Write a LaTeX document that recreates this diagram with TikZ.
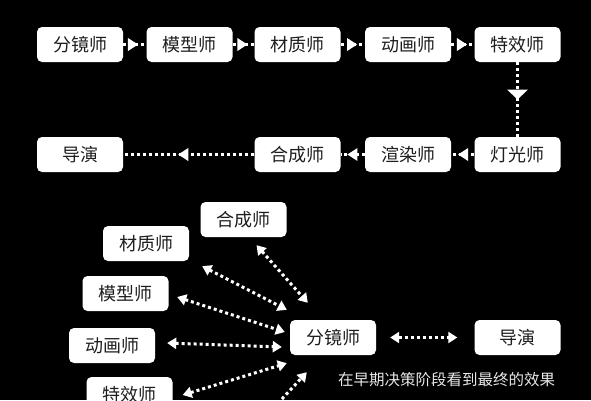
\documentclass[tikz,border=0pt]{standalone}
\usepackage{fontspec}
\setmainfont{Noto Sans CJK SC}
\usetikzlibrary{arrows.meta,calc,decorations.markings}
\definecolor{boxtext}{HTML}{1E1E1E}
\definecolor{captext}{HTML}{E8E8E8}
\tikzset{
  rolebox/.style={draw=none, fill=white, rounded corners=5pt, minimum width=86pt, minimum height=35pt,
    inner sep=0pt, text=boxtext, font=\fontsize{18pt}{20pt}\selectfont},
  dotline/.style={draw=white, line width=3pt, dash pattern=on 3pt off 3pt},
  midtri/.style={postaction={decorate, decoration={markings,
      mark=at position #1 with {\fill[white] (0,0) -- (-10pt,6.5pt) -- (-10pt,-6.5pt) -- cycle;}}}},
  midtriv/.style={postaction={decorate, decoration={markings,
      mark=at position #1 with {\fill[white] (0,0) -- (-10pt,10.5pt) -- (-10pt,-10.5pt) -- cycle;}}}},
  twoway/.style={dotline, {Triangle[length=9pt,width=11pt]}-{Triangle[length=9pt,width=11pt]}},
}
\begin{document}
\begin{tikzpicture}[x=1pt,y=-1pt]
\fill[black] (0,0) rectangle (591,400);
\clip (0,0) rectangle (591,400);
% top process
\node[rolebox] (fj1) at (80,44.5) {分镜师};
\node[rolebox] (mx1) at (189.5,44.5) {模型师};
\node[rolebox] (cz1) at (297.5,44.5) {材质师};
\node[rolebox] (dh1) at (408,44.5) {动画师};
\node[rolebox] (tx1) at (517.5,44.5) {特效师};
\node[rolebox] (dy1) at (80,154.5) {导演};
\node[rolebox] (hc1) at (297.5,154.5) {合成师};
\node[rolebox] (xr1) at (408,154.5) {渲染师};
\node[rolebox] (dg1) at (517.5,154.5) {灯光师};
\draw[dotline, midtri=0.64] (fj1.east) -- (mx1.west);
\draw[dotline, midtri=0.68] (mx1.east) -- (cz1.west);
\draw[dotline, midtri=0.68] (cz1.east) -- (dh1.west);
\draw[dotline, midtri=0.68] (dh1.east) -- (tx1.west);
\draw[dotline, midtriv=0.5] (tx1.south) -- (dg1.north);
\draw[dotline, midtri=0.7] (dg1.west) -- (xr1.west -| xr1.east);
\draw[dotline, midtri=0.72] (xr1.west) -- (hc1.east);
\draw[dotline, midtri=0.58] (hc1.west) -- (dy1.east);
% bottom collaboration
\node[rolebox] (hc2) at (243.5,219.5) {合成师};
\node[rolebox] (cz2) at (146,243.5) {材质师};
\node[rolebox] (mx2) at (125.5,293.5) {模型师};
\node[rolebox] (dh2) at (112,345.5) {动画师};
\node[rolebox] (tx2) at (129.5,394.5) {特效师};
\node[rolebox] (fj2) at (333,337.5) {分镜师};
\node[rolebox] (dy2) at (517.5,337.5) {导演};
\coordinate (below) at (268,414);
\draw[twoway] ($(hc2.south)+(13,8)$) -- ($(fj2.north west)+(18,-17)$);
\draw[twoway] ($(cz2.south east)+(13,5)$) -- ($(fj2.north west)+(-3,-10)$);
\draw[twoway] ($(mx2.east)+(8.5,3.5)$) -- ($(fj2.west)+(-5,-5.5)$);
\draw[twoway] ($(dh2.east)+(12,-2.5)$) -- ($(fj2.west)+(-8,9.5)$);
\draw[twoway] ($(tx2.east)+(10,0.5)$) -- ($(fj2.south west)+(-3,8)$);
\draw[twoway] (below) -- ($(fj2.south west)+(17,17)$);
\draw[twoway] ($(fj2.east)+(14,0)$) -- ($(dy2.west)+(-17,0)$);
\node[text=captext, font=\fontsize{15.5pt}{17pt}\selectfont, inner sep=0pt] (cap) at (446.5,380) {在早期决策阶段看到最终的效果};
\end{tikzpicture}
\end{document}
